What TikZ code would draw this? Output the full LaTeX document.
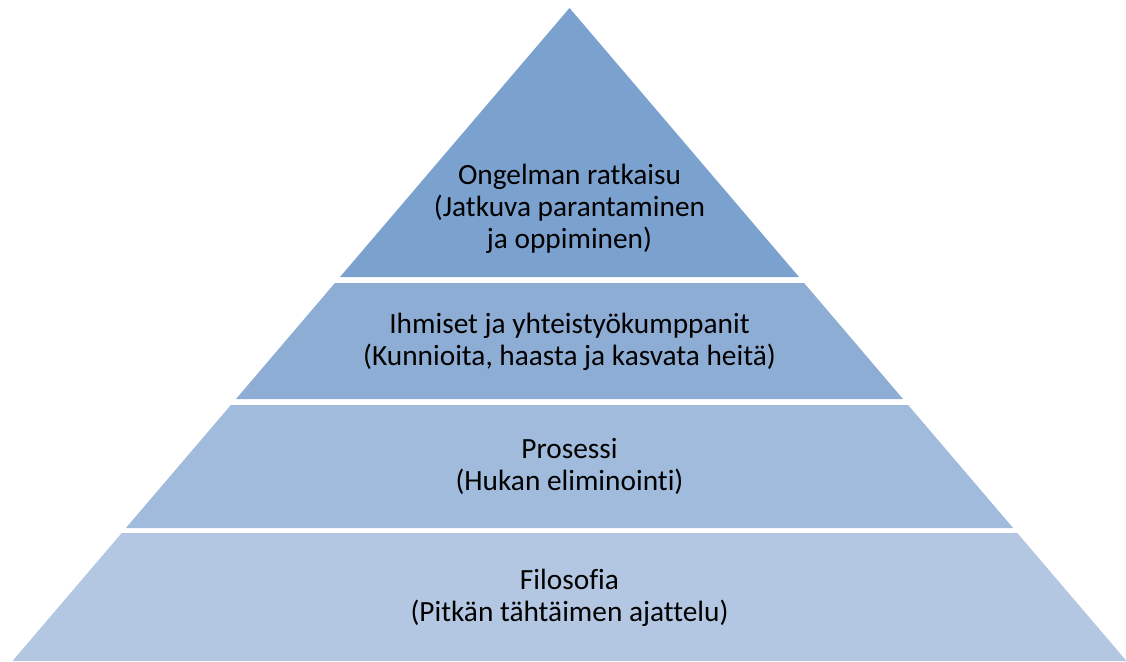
\documentclass[tikz,border=0pt]{standalone}
\usepackage{fontspec}
\setmainfont[Ligatures={NoCommon,NoRare}]{Carlito}
\definecolor{lvA}{HTML}{7BA2CF}
\definecolor{lvB}{HTML}{8EADD5}
\definecolor{lvC}{HTML}{A0BBDC}
\definecolor{lvD}{HTML}{B3C7E2}
\tikzset{
  lvl/.style={draw=none},
  lbl/.style={align=center, font=\fontsize{22pt}{24pt}\selectfont, text=black, inner sep=0pt}
}
\begin{document}
\begin{tikzpicture}[x=0.75pt,y=-0.75pt]
\useasboundingbox (0,0) rectangle (1126,661);
\clip (0,0) rectangle (1126,661);
\fill[lvl, lvA] (569.5,8) -- (799,277) -- (340,277) -- cycle;
\fill[lvl, lvB] (334.9,283) -- (804.1,283) -- (903,399) -- (236,399) -- cycle;
\fill[lvl, lvC] (230.9,405) -- (908.1,405) -- (1013.1,528) -- (125.9,528) -- cycle;
\fill[lvl, lvD] (121.7,533) -- (1017.3,533) -- (1126.5,661) -- (12.5,661) -- cycle;
\node[lbl] (t1) at (569.5,209) {Ongelman ratkaisu\\(Jatkuva parantaminen\\ja oppiminen)};
\node[lbl] (t2) at (569.5,342) {Ihmiset ja yhteistyökumppanit\\(Kunnioita, haasta ja kasvata heitä)};
\node[lbl] (t3) at (569.5,466) {Prosessi\\(Hukan eliminointi)};
\node[lbl] (t4) at (569.5,598) {Filosofia\\(Pitkän tähtäimen ajattelu)};
\end{tikzpicture}
\end{document}
